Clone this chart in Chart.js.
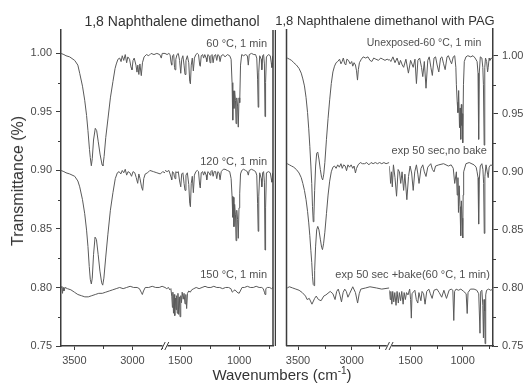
<!DOCTYPE html>
<html>
<head>
<meta charset="utf-8">
<script src="https://cdn.jsdelivr.net/npm/chart.js@4.4.0/dist/chart.umd.min.js"></script>
<style>
  html, body { margin: 0; padding: 0; background: #fff; }
  #wrap { position: relative; width: 526px; height: 383px; overflow: hidden; font-family: "Liberation Sans", Arial, sans-serif; color: #333; }
  canvas { position: absolute; top: 0; }
  #cvLeft { left: 0; }
  #cvRight { left: 276px; }
  .ptitle { position: absolute; top: 12px; transform: translateX(-50%); white-space: nowrap; line-height: 18px; }
  #yTitle { position: absolute; left: 18px; top: 181px; transform: translate(-50%, -50%) rotate(-90deg); font-size: 16px; white-space: nowrap; line-height: 18px; }
  #xTitle { position: absolute; left: 282px; top: 366px; transform: translateX(-50%); font-size: 15px; white-space: nowrap; line-height: 17px; }
  #xTitle sup { font-size: 10px; line-height: 0; }
</style>
</head>
<body>
<div id="wrap">
  <canvas id="cvLeft" width="276" height="383"></canvas>
  <canvas id="cvRight" width="250" height="383"></canvas>
  <div class="ptitle" style="left:172px;font-size:14px">1,8 Naphthalene dimethanol</div>
  <div class="ptitle" style="left:385px;font-size:13px">1,8 Naphthalene dimethanol with PAG</div>
  <div id="yTitle">Transmittance (%)</div>
  <div id="xTitle">Wavenumbers (cm<sup>-1</sup>)</div>
</div>
<script>
// axis ticks
const wnTicksHi = [3500, 3000];
const wnTicksLo = [1500, 1000];
const wnMinorHi = [3250, 2750];
const wnMinorLo = [1250, 750];
const tTicks = [0.75, 0.80, 0.85, 0.90, 0.95, 1.00];
const tMinor = [0.775, 0.825, 0.875, 0.925, 0.975];

// neat film, baked 60 / 120 / 150 degC  ([wavenumber, transmittance])
const neat60Hi = [[3615,1.000],[3590,0.999],[3572,0.998],[3540,0.997],[3497,0.994],[3470,0.990],[3454,0.983],[3430,0.972],[3411,0.960],[3395,0.947],[3383,0.934],[3370,0.918],[3363,0.911],[3354,0.904],[3346,0.910],[3335,0.926],[3320,0.936],[3308,0.934],[3295,0.925],[3279,0.914],[3262,0.905],[3254,0.904],[3244,0.912],[3230,0.928],[3211,0.944],[3190,0.962],[3168,0.976],[3150,0.987],[3139,0.991],[3125,0.995],[3110,0.996],[3098,0.993],[3088,0.998],[3075,0.994],[3062,0.999],[3050,0.992],[3040,0.997],[3025,0.995],[3012,0.988],[3004,0.986],[2995,0.994],[2985,0.996],[2970,0.990],[2961,0.984],[2954,0.990],[2945,0.982],[2936,0.991],[2924,0.981],[2914,0.992],[2900,0.997],[2880,0.999],[2860,0.998],[2840,1.000],[2815,0.999],[2790,1.000],[2765,0.999],[2752,0.996],[2744,1.000],[2720,1.000]];
const neat60Lo = [[1630,1.000],[1612,0.999],[1597,1.000],[1587,0.999],[1578,0.992],[1573,0.990],[1566,0.998],[1556,0.999],[1549,0.988],[1545,0.986],[1538,0.995],[1528,0.999],[1517,1.000],[1506,0.994],[1496,0.983],[1488,0.995],[1478,0.998],[1468,0.990],[1460,0.982],[1452,0.994],[1440,0.998],[1428,0.992],[1420,0.976],[1414,0.974],[1407,0.990],[1398,0.996],[1389,0.985],[1380,0.996],[1368,0.999],[1355,1.000],[1345,0.999],[1335,0.990],[1330,0.989],[1322,0.998],[1310,0.999],[1302,0.996],[1292,0.999],[1280,0.996],[1275,0.993],[1266,0.999],[1255,0.998],[1247,0.992],[1240,0.998],[1230,0.999],[1221,0.992],[1212,0.998],[1200,0.999],[1190,0.994],[1181,0.999],[1170,0.998],[1162,0.993],[1152,0.998],[1135,0.999],[1120,0.997],[1100,0.999],[1080,0.998],[1068,0.995],[1060,0.975],[1054,0.943],[1049,0.968],[1044,0.953],[1038,0.968],[1031,0.960],[1026,0.940],[1020,0.962],[1013,0.955],[1007,0.937],[1001,0.962],[995,0.958],[988,0.990],[978,0.999],[962,0.998],[945,0.999],[930,0.998],[922,0.990],[914,0.999],[895,1.000],[875,0.999],[860,0.999],[850,0.996],[843,0.978],[838,0.954],[833,0.984],[825,0.998],[812,0.995],[807,0.986],[800,0.998],[792,0.999],[785,0.991],[780,0.946],[775,0.975],[768,0.997],[750,0.999],[735,0.998],[727,0.992],[722,0.988],[716,0.997],[712,0.998]];
const neat120Hi = [[3615,0.900],[3590,0.899],[3572,0.898],[3540,0.897],[3497,0.895],[3470,0.891],[3454,0.886],[3430,0.875],[3411,0.863],[3395,0.849],[3383,0.835],[3372,0.818],[3363,0.807],[3354,0.803],[3346,0.808],[3335,0.828],[3322,0.843],[3310,0.841],[3295,0.828],[3280,0.814],[3265,0.804],[3256,0.802],[3246,0.808],[3230,0.826],[3212,0.845],[3190,0.866],[3168,0.881],[3148,0.893],[3130,0.898],[3115,0.899],[3100,0.897],[3088,0.900],[3075,0.898],[3062,0.901],[3050,0.896],[3038,0.899],[3022,0.898],[3008,0.895],[2995,0.899],[2980,0.898],[2968,0.894],[2955,0.889],[2945,0.897],[2935,0.893],[2922,0.886],[2912,0.883],[2903,0.893],[2890,0.897],[2870,0.898],[2850,0.900],[2820,0.899],[2790,0.898],[2760,0.897],[2740,0.899],[2720,0.898]];
const neat120Lo = [[1630,0.900],[1612,0.899],[1597,0.900],[1587,0.897],[1578,0.894],[1573,0.892],[1566,0.899],[1556,0.898],[1549,0.894],[1545,0.893],[1538,0.899],[1528,0.898],[1517,0.899],[1506,0.891],[1496,0.886],[1488,0.897],[1478,0.898],[1468,0.889],[1460,0.883],[1452,0.896],[1440,0.898],[1428,0.888],[1420,0.872],[1414,0.869],[1407,0.889],[1398,0.895],[1389,0.881],[1380,0.896],[1368,0.899],[1355,0.900],[1345,0.899],[1335,0.887],[1330,0.885],[1322,0.898],[1310,0.899],[1302,0.896],[1292,0.899],[1280,0.896],[1275,0.892],[1266,0.899],[1255,0.898],[1247,0.896],[1240,0.899],[1230,0.900],[1221,0.895],[1212,0.899],[1200,0.899],[1190,0.893],[1181,0.899],[1170,0.898],[1162,0.892],[1152,0.899],[1135,0.901],[1120,0.901],[1100,0.900],[1080,0.899],[1068,0.893],[1060,0.878],[1054,0.860],[1049,0.877],[1044,0.852],[1038,0.871],[1031,0.862],[1026,0.840],[1020,0.866],[1013,0.858],[1007,0.842],[1001,0.868],[995,0.880],[988,0.897],[978,0.900],[962,0.901],[945,0.900],[930,0.899],[922,0.896],[914,0.900],[895,0.901],[875,0.900],[860,0.899],[850,0.896],[843,0.872],[838,0.848],[833,0.878],[825,0.898],[812,0.893],[807,0.886],[800,0.898],[792,0.899],[785,0.890],[780,0.832],[775,0.868],[768,0.898],[750,0.899],[735,0.898],[727,0.893],[722,0.890],[716,0.897],[712,0.898]];
const neat150Hi = [[3615,0.800],[3608,0.801],[3602,0.795],[3597,0.800],[3590,0.797],[3580,0.800],[3560,0.799],[3530,0.798],[3500,0.796],[3470,0.794],[3440,0.793],[3410,0.792],[3380,0.792],[3350,0.793],[3320,0.794],[3290,0.795],[3260,0.795],[3230,0.796],[3200,0.797],[3170,0.798],[3140,0.799],[3110,0.800],[3080,0.799],[3050,0.800],[3020,0.801],[2990,0.800],[2960,0.800],[2940,0.799],[2925,0.796],[2915,0.794],[2905,0.797],[2890,0.800],[2860,0.800],[2830,0.801],[2800,0.800],[2770,0.800],[2745,0.801],[2720,0.800]];
const neat150Lo = [[1630,0.800],[1615,0.799],[1600,0.800],[1590,0.798],[1580,0.799],[1572,0.792],[1567,0.783],[1563,0.796],[1558,0.778],[1553,0.794],[1547,0.776],[1542,0.791],[1536,0.781],[1531,0.793],[1526,0.778],[1520,0.795],[1514,0.777],[1508,0.792],[1502,0.775],[1496,0.793],[1490,0.787],[1484,0.796],[1475,0.790],[1468,0.795],[1460,0.786],[1453,0.794],[1446,0.782],[1439,0.795],[1428,0.797],[1415,0.796],[1403,0.798],[1385,0.799],[1365,0.800],[1340,0.799],[1315,0.800],[1290,0.801],[1265,0.800],[1240,0.800],[1215,0.801],[1190,0.800],[1165,0.800],[1140,0.799],[1115,0.800],[1090,0.800],[1070,0.799],[1058,0.796],[1048,0.797],[1035,0.798],[1018,0.796],[1000,0.795],[990,0.797],[975,0.800],[955,0.800],[930,0.801],[905,0.800],[880,0.800],[855,0.801],[830,0.800],[808,0.800],[795,0.799],[785,0.796],[780,0.794],[773,0.799],[760,0.800],[740,0.800],[725,0.799],[712,0.800]];

// film with PAG: unexposed, exposed without bake, exposed + bake
const pagUnexpHi = [[3600,0.998],[3580,0.997],[3560,0.996],[3540,0.994],[3515,0.992],[3490,0.989],[3470,0.985],[3455,0.980],[3440,0.974],[3425,0.964],[3411,0.951],[3400,0.937],[3390,0.922],[3380,0.905],[3372,0.890],[3365,0.870],[3358,0.857],[3352,0.862],[3345,0.884],[3336,0.905],[3326,0.916],[3316,0.917],[3305,0.911],[3292,0.902],[3280,0.895],[3270,0.893],[3260,0.898],[3250,0.908],[3235,0.928],[3220,0.946],[3205,0.962],[3190,0.976],[3175,0.986],[3160,0.991],[3145,0.994],[3130,0.995],[3113,0.997],[3100,0.993],[3089,0.995],[3078,0.998],[3065,0.993],[3055,0.992],[3045,0.997],[3030,0.996],[3015,0.993],[3000,0.995],[2990,0.991],[2978,0.994],[2965,0.992],[2955,0.987],[2946,0.979],[2938,0.988],[2928,0.994],[2910,0.997],[2893,0.999],[2870,0.998],[2848,0.999],[2830,0.996],[2812,0.995],[2795,0.998],[2775,0.997],[2750,0.996],[2730,0.998],[2710,0.997],[2690,0.996],[2670,0.997],[2650,0.996]];
const pagUnexpLo = [[1705,0.997],[1690,0.995],[1670,0.999],[1650,0.994],[1630,0.998],[1610,0.992],[1597,0.996],[1580,0.992],[1567,0.990],[1545,0.997],[1521,0.985],[1500,0.996],[1475,0.990],[1458,0.997],[1444,0.976],[1430,0.996],[1413,0.998],[1395,0.990],[1383,0.982],[1368,0.995],[1352,0.972],[1335,0.996],[1321,0.999],[1305,0.990],[1291,0.983],[1275,0.998],[1260,0.999],[1245,0.992],[1229,0.986],[1212,0.998],[1199,0.999],[1183,0.993],[1168,0.988],[1150,0.999],[1137,1.000],[1120,0.996],[1106,0.993],[1090,0.999],[1076,1.000],[1065,0.990],[1060,0.975],[1052,0.960],[1045,0.951],[1038,0.970],[1030,0.938],[1024,0.955],[1018,0.928],[1012,0.958],[1008,0.940],[1003,0.950],[999,0.925],[992,0.975],[984,0.995],[968,0.999],[950,1.000],[922,0.999],[900,1.000],[880,0.998],[861,0.995],[852,0.985],[846,0.928],[840,0.985],[830,0.999],[815,0.998],[806,0.990],[800,0.975],[793,0.923],[787,0.990],[780,0.998],[769,0.995],[760,0.986],[754,0.990],[745,0.998],[738,0.996],[720,0.998],[708,0.997]];
const pagNoBakeHi = [[3600,0.907],[3580,0.906],[3560,0.905],[3540,0.904],[3515,0.902],[3490,0.899],[3470,0.895],[3455,0.890],[3440,0.884],[3425,0.876],[3411,0.866],[3400,0.856],[3390,0.845],[3380,0.832],[3372,0.822],[3365,0.810],[3358,0.803],[3351,0.802],[3345,0.815],[3336,0.836],[3326,0.850],[3316,0.853],[3305,0.850],[3292,0.842],[3280,0.835],[3272,0.833],[3262,0.838],[3250,0.848],[3235,0.864],[3220,0.880],[3205,0.892],[3190,0.900],[3175,0.904],[3160,0.905],[3145,0.903],[3130,0.906],[3115,0.904],[3100,0.907],[3088,0.903],[3075,0.906],[3060,0.905],[3048,0.901],[3035,0.906],[3020,0.904],[3005,0.906],[2990,0.903],[2978,0.905],[2965,0.899],[2955,0.903],[2940,0.906],[2920,0.908],[2900,0.907],[2880,0.907],[2860,0.908],[2840,0.906],[2820,0.908],[2800,0.907],[2780,0.908],[2760,0.907],[2740,0.908],[2720,0.907],[2700,0.908],[2680,0.907],[2650,0.908]];
const pagNoBakeLo = [[1705,0.905],[1692,0.890],[1684,0.900],[1676,0.887],[1665,0.906],[1650,0.895],[1635,0.879],[1620,0.902],[1607,0.900],[1595,0.890],[1582,0.900],[1567,0.884],[1555,0.898],[1536,0.876],[1520,0.896],[1505,0.905],[1490,0.899],[1475,0.884],[1460,0.900],[1444,0.906],[1430,0.898],[1419,0.890],[1400,0.903],[1383,0.906],[1368,0.900],[1352,0.896],[1335,0.904],[1306,0.907],[1290,0.902],[1275,0.900],[1260,0.905],[1229,0.906],[1183,0.907],[1137,0.905],[1110,0.906],[1090,0.903],[1076,0.890],[1060,0.900],[1052,0.880],[1045,0.895],[1040,0.865],[1033,0.888],[1025,0.870],[1018,0.845],[1012,0.875],[1005,0.860],[999,0.843],[995,0.880],[990,0.900],[968,0.907],[937,0.908],[890,0.906],[870,0.904],[861,0.900],[852,0.895],[846,0.855],[840,0.893],[830,0.905],[815,0.907],[805,0.902],[798,0.890],[792,0.847],[786,0.896],[775,0.906],[760,0.898],[754,0.895],[745,0.904],[730,0.906],[708,0.905]];
const pagBakeHi = [[3600,0.800],[3580,0.801],[3550,0.800],[3520,0.799],[3490,0.798],[3460,0.796],[3430,0.793],[3415,0.790],[3395,0.791],[3370,0.786],[3345,0.791],[3330,0.793],[3310,0.790],[3285,0.789],[3260,0.793],[3240,0.794],[3200,0.797],[3175,0.795],[3155,0.790],[3140,0.797],[3125,0.799],[3110,0.794],[3095,0.788],[3080,0.796],[3065,0.799],[3050,0.797],[3035,0.792],[3020,0.795],[2990,0.801],[2965,0.796],[2945,0.787],[2930,0.795],[2915,0.799],[2870,0.800],[2830,0.801],[2770,0.800],[2720,0.799],[2650,0.800]];
const pagBakeLo = [[1705,0.798],[1696,0.790],[1690,0.797],[1680,0.786],[1672,0.797],[1662,0.788],[1652,0.796],[1640,0.785],[1630,0.797],[1618,0.787],[1608,0.796],[1596,0.789],[1585,0.797],[1572,0.786],[1562,0.796],[1550,0.790],[1539,0.796],[1525,0.794],[1509,0.799],[1500,0.790],[1493,0.774],[1486,0.795],[1470,0.797],[1459,0.798],[1445,0.790],[1431,0.787],[1420,0.796],[1401,0.789],[1390,0.797],[1375,0.795],[1361,0.786],[1345,0.797],[1325,0.799],[1310,0.795],[1293,0.791],[1275,0.798],[1247,0.799],[1225,0.796],[1201,0.792],[1180,0.798],[1155,0.791],[1130,0.798],[1110,0.799],[1094,0.798],[1085,0.772],[1077,0.797],[1063,0.799],[1040,0.798],[1017,0.799],[990,0.797],[966,0.795],[956,0.778],[948,0.796],[925,0.799],[890,0.799],[864,0.798],[845,0.795],[833,0.761],[826,0.797],[815,0.798],[806,0.785],[800,0.757],[794,0.790],[788,0.780],[784,0.752],[778,0.794],[770,0.798],[750,0.799],[730,0.798],[708,0.799]];

// condition labels, placed in data units of the fingerprint axis
const neatLabels = [
  { text: '60 \u00B0C, 1 min', wn: 763, t: 1.008, size: 11 },
  { text: '120 \u00B0C, 1 min', wn: 763, t: 0.9075, size: 11 },
  { text: '150 \u00B0C, 1 min', wn: 763, t: 0.8105, size: 11 },
];
const pagLabels = [
  { text: 'Unexposed-60 \u00B0C, 1 min', wn: 821, t: 1.011, size: 10.5 },
  { text: 'exp 50 sec,no bake', wn: 766, t: 0.918, size: 11 },
  { text: 'exp 50 sec +bake(60 \u00B0C, 1 min)', wn: 738, t: 0.811, size: 11 },
];

const axisColor = '#3c3c3c';
const tickText = '#4a4a4a';
const traceColor = '#5a5a5a';
const fontFamily = '"Liberation Sans", Arial, sans-serif';

const toXY = (pts) => pts.map(([x, y]) => ({ x, y }));

function trace(pts, xAxisID) {
  return {
    data: toXY(pts),
    xAxisID,
    yAxisID: 'y',
    borderColor: traceColor,
    borderWidth: 1,
    pointRadius: 0,
    tension: 0,
    fill: false,
  };
}

// minor ticks, frame lines, axis break and condition labels
const panelDecor = {
  id: 'panelDecor',
  afterDraw(chart, args, opts) {
    const { ctx, chartArea: ca, scales } = chart;
    const y = scales.y;
    ctx.save();
    ctx.strokeStyle = axisColor;
    ctx.lineWidth = 1;
    tMinor.forEach((v) => {
      const py = Math.round(y.getPixelForValue(v)) + 0.5;
      ctx.beginPath();
      if (opts.ySide === 'left') {
        ctx.moveTo(ca.left - 3, py);
        ctx.lineTo(ca.left, py);
      } else {
        ctx.moveTo(ca.right, py);
        ctx.lineTo(ca.right + 3, py);
      }
      ctx.stroke();
    });
    [['xa', wnMinorHi], ['xb', wnMinorLo]].forEach(([id, vals]) => {
      const s = scales[id];
      vals.forEach((v) => {
        const px = Math.round(s.getPixelForValue(v)) + 0.5;
        ctx.beginPath();
        ctx.moveTo(px, ca.bottom);
        ctx.lineTo(px, ca.bottom + 3);
        ctx.stroke();
      });
    });

    ctx.lineWidth = 1.5;
    opts.frame.forEach(({ edge, dx }) => {
      const px = ca[edge] + dx;
      ctx.beginPath();
      ctx.moveTo(px, ca.top);
      ctx.lineTo(px, ca.bottom);
      ctx.stroke();
    });

    const bx = scales.xa.right;
    ctx.fillStyle = '#fff';
    ctx.fillRect(bx - 2.5, ca.bottom - 2, 5, 4);
    ctx.lineWidth = 1;
    [-1.8, 1.8].forEach((dx) => {
      ctx.beginPath();
      ctx.moveTo(bx + dx - 2, ca.bottom + 4);
      ctx.lineTo(bx + dx + 2, ca.bottom - 4);
      ctx.stroke();
    });

    ctx.fillStyle = '#505050';
    ctx.textAlign = 'right';
    ctx.textBaseline = 'middle';
    opts.labels.forEach((l) => {
      ctx.font = `${l.size}px ${fontFamily}`;
      ctx.fillText(l.text, scales.xb.getPixelForValue(l.wn), y.getPixelForValue(l.t));
    });
    ctx.restore();
  },
};

function wnAxis(min, max, weight, ticks) {
  return {
    type: 'linear',
    position: 'bottom',
    stack: 'wn',
    stackWeight: weight,
    min,
    max,
    reverse: true,
    afterBuildTicks: (s) => { s.ticks = ticks.map((value) => ({ value })); },
    afterFit: (s) => { s.height = 37; },
    grid: { drawOnChartArea: false, drawTicks: true, tickLength: 4, tickColor: axisColor, tickWidth: 1 },
    border: { color: axisColor, width: 1.5 },
    ticks: { color: tickText, font: { family: fontFamily, size: 11 }, padding: 4, maxRotation: 0, callback: (v) => String(v) },
  };
}

function tAxis(position, max, width) {
  return {
    type: 'linear',
    position,
    min: 0.75,
    max,
    afterBuildTicks: (s) => { s.ticks = tTicks.map((value) => ({ value })); },
    afterFit: (s) => { s.width = width; },
    grid: { drawOnChartArea: false, drawTicks: true, tickLength: 5, tickColor: axisColor, tickWidth: 1 },
    border: { color: axisColor, width: 1.5 },
    ticks: { color: tickText, font: { family: fontFamily, size: 11 }, padding: 4, callback: (v) => v.toFixed(2) },
  };
}

new Chart(document.getElementById('cvLeft'), {
  type: 'line',
  data: {
    datasets: [
      trace(neat60Hi, 'xa'), trace(neat60Lo, 'xb'),
      trace(neat120Hi, 'xa'), trace(neat120Lo, 'xb'),
      trace(neat150Hi, 'xa'), trace(neat150Lo, 'xb'),
    ],
  },
  options: {
    responsive: false,
    animation: false,
    devicePixelRatio: 1,
    layout: { padding: { top: 30, right: 3, bottom: 0, left: 0 } },
    plugins: {
      legend: { display: false },
      tooltip: { enabled: false },
      panelDecor: { ySide: 'left', frame: [{ edge: 'right', dx: 0 }, { edge: 'right', dx: 2.5 }], labels: neatLabels },
    },
    scales: {
      xa: wnAxis(2720, 3615, 104, wnTicksHi),
      xb: wnAxis(712, 1630, 108, wnTicksLo),
      y: tAxis('left', 1.02, 61),
    },
  },
  plugins: [panelDecor],
});

new Chart(document.getElementById('cvRight'), {
  type: 'line',
  data: {
    datasets: [
      trace(pagUnexpHi, 'xa'), trace(pagUnexpLo, 'xb'),
      trace(pagNoBakeHi, 'xa'), trace(pagNoBakeLo, 'xb'),
      trace(pagBakeHi, 'xa'), trace(pagBakeLo, 'xb'),
    ],
  },
  options: {
    responsive: false,
    animation: false,
    devicePixelRatio: 1,
    layout: { padding: { top: 29, right: 0, bottom: 0, left: 2 } },
    plugins: {
      legend: { display: false },
      tooltip: { enabled: false },
      panelDecor: { ySide: 'right', frame: [{ edge: 'left', dx: 0 }], labels: pagLabels },
    },
    scales: {
      xa: wnAxis(2650, 3607, 107, wnTicksHi),
      xb: wnAxis(708, 1705, 108, wnTicksLo),
      y: tAxis('right', 1.023, 33),
    },
  },
  plugins: [panelDecor],
});
</script>
</body>
</html>
